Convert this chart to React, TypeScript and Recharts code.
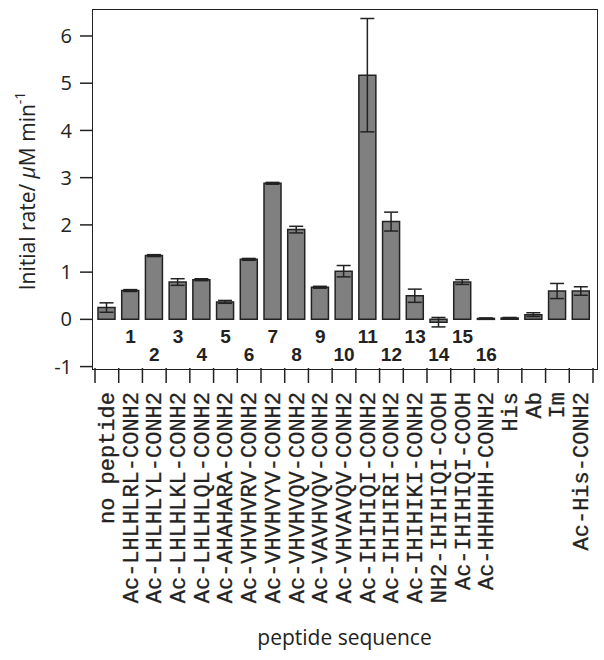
import { BarChart, Bar, XAxis, YAxis, ErrorBar } from "recharts";

const categories = [
  "no peptide",
  "Ac-LHLHLRL-CONH2",
  "Ac-LHLHLYL-CONH2",
  "Ac-LHLHLKL-CONH2",
  "Ac-LHLHLQL-CONH2",
  "Ac-AHAHARA-CONH2",
  "Ac-VHVHVRV-CONH2",
  "Ac-VHVHVYV-CONH2",
  "Ac-VHVHVQV-CONH2",
  "Ac-VAVHVQV-CONH2",
  "Ac-VHVAVQV-CONH2",
  "Ac-IHIHIQI-CONH2",
  "Ac-IHIHIRI-CONH2",
  "Ac-IHIHIKI-CONH2",
  "NH2-IHIHIQI-COOH",
  "Ac-IHIHIQI-COOH",
  "Ac-HHHHHH-CONH2",
  "His",
  "Ab",
  "Im",
  "Ac-His-CONH2",
];
const peptideNumbers = ["", "1", "2", "3", "4", "5", "6", "7", "8", "9", "10", "11", "12", "13", "14", "15", "16", "", "", "", ""];
const rates = [0.25, 0.61, 1.35, 0.79, 0.84, 0.37, 1.27, 2.88, 1.9, 0.68, 1.02, 5.17, 2.07, 0.5, -0.06, 0.79, 0.02, 0.03, 0.1, 0.6, 0.6];
const errors = [0.1, 0.02, 0.02, 0.07, 0.02, 0.03, 0.02, 0.02, 0.07, 0.02, 0.12, 1.2, 0.2, 0.14, 0.1, 0.05, 0.01, 0.01, 0.04, 0.16, 0.09];
const yTicks = [-1, 0, 1, 2, 3, 4, 5, 6];

const data = categories.map((name, i) => ({ name, rate: rates[i], err: errors[i] }));

const INK = "#222";
const BAND = 498 / categories.length;

function CategoryTick({ x, y, payload, index }: any) {
  const num = peptideNumbers[index];
  const odd = Number(num) % 2 === 1;
  return (
    <g>
      <line x1={x - BAND / 2} x2={x - BAND / 2} y1={y} y2={y + 15} stroke={INK} strokeWidth={1.5} />
      {index === categories.length - 1 && (
        <line x1={x + BAND / 2} x2={x + BAND / 2} y1={y} y2={y + 15} stroke={INK} strokeWidth={1.5} />
      )}
      <text
        transform={`translate(${x + 7}, ${y + 24}) rotate(-90)`}
        textAnchor="end"
        fontFamily="Liberation Mono"
        fontSize={22}
        fill={INK}
        stroke={INK}
        strokeWidth={0.3}
      >
        {payload.value}
      </text>
      {num && (
        <text
          x={x}
          y={odd ? y - 25 : y - 7}
          textAnchor="middle"
          fontFamily="Liberation Sans"
          fontWeight="bold"
          fontSize={19}
          fill={INK}
        >
          {num}
        </text>
      )}
    </g>
  );
}

function YTitle({ viewBox }: any) {
  const cx = viewBox.x + 35;
  const cy = viewBox.y + viewBox.height / 2 + 2;
  return (
    <text
      transform={`translate(${cx}, ${cy}) rotate(-90)`}
      textAnchor="middle"
      fontFamily="Open Sans"
      fontSize={21}
      fill={INK}
    >
      Initial rate/ <tspan fontStyle="italic">μ</tspan>M min
      <tspan dy={-10} fontSize={14}>-1</tspan>
    </text>
  );
}

function XTitle({ viewBox }: any) {
  return (
    <text
      x={viewBox.x + viewBox.width / 2}
      y={viewBox.y + 277}
      textAnchor="middle"
      fontFamily="Open Sans"
      fontSize={21}
      fill={INK}
    >
      peptide sequence
    </text>
  );
}

export default function App() {
  return (
    <div style={{ position: "absolute", left: 0, top: 0, width: 604, height: 660, background: "#fff" }}>
      <BarChart
        width={604}
        height={660}
        data={data}
        margin={{ top: 10, right: 8, bottom: 0, left: 0 }}
        barSize={17}
      >
        <XAxis
          dataKey="name"
          type="category"
          interval={0}
          height={292}
          padding={{ left: 2, right: 3 }}
          axisLine={false}
          tickLine={false}
          tickSize={0}
          tickMargin={0}
          tick={<CategoryTick />}
          label={{ content: <XTitle /> }}
        />
        <YAxis
          width={93}
          domain={[-1.03, 6.55]}
          allowDataOverflow
          ticks={yTicks}
          interval={0}
          axisLine={false}
          tickSize={13}
          tickMargin={8}
          tickLine={{ stroke: INK, strokeWidth: 1.5 }}
          tick={{ fontFamily: "Open Sans", fontSize: 20, fill: INK }}
          label={{ content: <YTitle /> }}
        />
        <Bar dataKey="rate" fill="#808080" stroke={INK} strokeWidth={1.5} isAnimationActive={false}>
          <ErrorBar dataKey="err" width={7} stroke={INK} strokeWidth={1.5} />
        </Bar>
      </BarChart>
      <div
        style={{
          position: "absolute",
          left: 92.25,
          top: 9.25,
          width: 505.5,
          height: 360.5,
          border: `1.5px solid ${INK}`,
          boxSizing: "border-box",
          pointerEvents: "none",
        }}
      />
    </div>
  );
}
